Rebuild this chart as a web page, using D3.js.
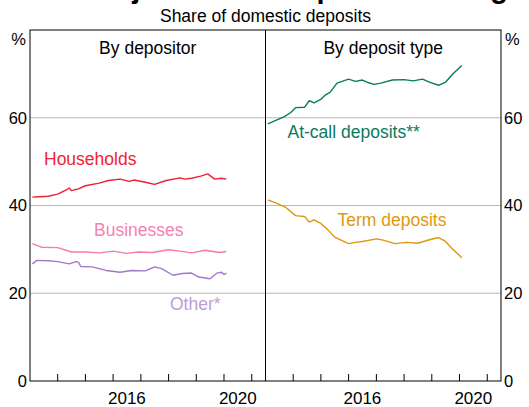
<!DOCTYPE html>
<html>
<head>
<meta charset="utf-8">
<script src="https://cdn.jsdelivr.net/npm/d3@7"></script>
<style>
  body { margin: 0; background: #fff; overflow: hidden; }
  svg { display: block; }
  text { font-family: Arial, "Liberation Sans", sans-serif; }
</style>
</head>
<body>
<svg id="chart"></svg>
<script>
// series, [month, per cent of domestic deposits]
const households = [
  ["2013-02", 41.9], ["2013-05", 42.0], ["2013-09", 42.1], ["2014-01", 42.6],
  ["2014-05", 43.6], ["2014-06", 44.0], ["2014-07", 43.4], ["2014-10", 43.8],
  ["2015-01", 44.5], ["2015-07", 45.1], ["2015-11", 45.7], ["2016-04", 46.0],
  ["2016-08", 45.5], ["2016-10", 45.8], ["2017-03", 45.3], ["2017-07", 44.8],
  ["2017-12", 45.7], ["2018-06", 46.3], ["2018-08", 46.0], ["2018-11", 46.2],
  ["2019-03", 46.7], ["2019-06", 47.2], ["2019-09", 46.0], ["2019-12", 46.2],
  ["2020-02", 46.0]
];
const businesses = [
  ["2013-02", 31.3], ["2013-06", 30.5], ["2014-01", 30.4], ["2014-07", 29.4],
  ["2015-01", 29.4], ["2015-07", 29.2], ["2016-01", 29.6], ["2016-07", 29.1],
  ["2016-12", 29.4], ["2017-06", 29.3], ["2018-01", 29.9], ["2018-06", 29.6],
  ["2018-11", 29.2], ["2019-05", 29.8], ["2019-11", 29.3], ["2020-02", 29.5]
];
const other = [
  ["2013-02", 26.7], ["2013-04", 27.5], ["2013-09", 27.4], ["2014-01", 27.2],
  ["2014-06", 26.7], ["2014-09", 27.2], ["2014-10", 27.1], ["2014-11", 26.1],
  ["2015-04", 26.0], ["2015-10", 25.2], ["2016-04", 24.8], ["2016-09", 25.2],
  ["2017-03", 25.1], ["2017-07", 26.0], ["2017-10", 25.6], ["2018-03", 24.1],
  ["2018-07", 24.5], ["2018-11", 24.6], ["2019-02", 23.7], ["2019-07", 23.3],
  ["2019-10", 24.6], ["2019-12", 24.8], ["2020-01", 24.3], ["2020-02", 24.6]
];
const atCall = [
  ["2013-02", 58.6], ["2013-06", 59.5], ["2013-09", 60.2], ["2013-12", 61.2],
  ["2014-02", 62.3], ["2014-06", 62.4], ["2014-08", 63.9], ["2014-10", 63.4],
  ["2015-01", 64.2], ["2015-03", 65.2], ["2015-05", 65.8], ["2015-08", 67.9],
  ["2016-01", 68.8], ["2016-04", 68.3], ["2016-07", 68.6], ["2016-09", 68.1],
  ["2016-12", 67.6], ["2017-03", 67.9], ["2017-08", 68.6], ["2018-01", 68.7],
  ["2018-05", 68.4], ["2018-09", 68.8], ["2018-12", 68.1], ["2019-04", 67.4],
  ["2019-07", 68.1], ["2019-10", 69.9], ["2020-02", 71.9]
];
const termDeposits = [
  ["2013-02", 41.3], ["2013-06", 40.5], ["2013-10", 39.5], ["2014-02", 37.7],
  ["2014-06", 37.5], ["2014-08", 36.2], ["2014-10", 36.7], ["2015-01", 35.9],
  ["2015-04", 34.5], ["2015-07", 32.8], ["2016-01", 31.3], ["2016-04", 31.6],
  ["2016-07", 31.8], ["2017-01", 32.4], ["2017-04", 32.1], ["2017-09", 31.3],
  ["2018-02", 31.6], ["2018-07", 31.4], ["2018-12", 32.2], ["2019-04", 32.7],
  ["2019-07", 31.8], ["2019-10", 30.1], ["2020-02", 28.1]
];

const yTicks = [0, 20, 40, 60];
const yearLabels = [2016, 2020];

const W = 529, H = 407;
const margin = {top: 30, right: 28, bottom: 26, left: 30};
const innerW = W - margin.left - margin.right;
const innerH = H - margin.top - margin.bottom;
const panelW = innerW / 2;

const parse = d3.timeParse("%Y-%m");

const svg = d3.select("#chart").attr("width", W).attr("height", H);

// title (mostly cut off at the top of the picture)
svg.append("text")
  .attr("x", 300).attr("y", -2)
  .attr("text-anchor", "middle")
  .attr("font-size", 29).attr("font-weight", "bold")
  .text("Major Banks' Deposit Funding");

svg.append("text")
  .attr("x", W / 2 + 1).attr("y", 16)
  .attr("dy", "0.36em")
  .attr("text-anchor", "middle")
  .attr("font-size", 17.5)
  .text("Share of domestic deposits");

const chart = svg.append("g")
  .attr("transform", `translate(${margin.left}, ${margin.top})`);

const yscale = d3.scaleLinear().domain([0, 80]).range([innerH, 0]);

// gridlines
chart.selectAll(".grid")
  .data(yTicks.filter(d => d > 0))
  .enter().append("line")
  .attr("x1", 0).attr("x2", innerW)
  .attr("y1", d => yscale(d)).attr("y2", d => yscale(d))
  .attr("stroke", "#b9b9b9").attr("stroke-width", 1);

// y tick labels both sides, "%" at the top
const yl = chart.append("g").attr("font-size", 16.5).attr("fill", "#000");
yTicks.forEach(v => {
  yl.append("text").attr("x", -3).attr("y", yscale(v)).attr("dy", "0.36em")
    .attr("text-anchor", "end").text(v);
  yl.append("text").attr("x", innerW + 3).attr("y", yscale(v)).attr("dy", "0.36em")
    .attr("text-anchor", "start").text(v);
});
yl.append("text").attr("x", -4).attr("y", 9).attr("dy", "0.36em")
  .attr("text-anchor", "end").text("%");
yl.append("text").attr("x", innerW + 4).attr("y", 9).attr("dy", "0.36em")
  .attr("text-anchor", "start").text("%");

const panels = [
  {title: "By depositor", series: [
    {data: households, color: "#ec1f33", label: "Households", lx: 14, ly: 129, lc: "#ee2337"},
    {data: businesses, color: "#f57ba9", label: "Businesses", lx: 64, ly: 200, lc: "#f581b3"},
    {data: other, color: "#a279c8", label: "Other*", lx: 140, ly: 274, lc: "#c19cd6"}
  ]},
  {title: "By deposit type", series: [
    {data: atCall, color: "#087a5d", label: "At-call deposits**", lx: 22, ly: 102, lc: "#0b7a5e"},
    {data: termDeposits, color: "#df9610", label: "Term deposits", lx: 72, ly: 190, lc: "#e0980f"}
  ]}
];

panels.forEach((p, i) => {
  const g = chart.append("g").attr("transform", `translate(${i * panelW}, 0)`);
  const xscale = d3.scaleTime()
    .domain([new Date(2013, 0, 1), new Date(2021, 6, 1)])
    .range([0, panelW]);

  const line = d3.line()
    .x(d => xscale(parse(d[0])))
    .y(d => yscale(d[1]));

  p.series.forEach(s => {
    g.append("path")
      .attr("d", line(s.data))
      .attr("fill", "none")
      .attr("stroke", s.color)
      .attr("stroke-width", 1.4)
      .attr("stroke-linejoin", "round");
    g.append("text")
      .attr("x", s.lx).attr("y", s.ly)
      .attr("dy", "0.36em")
      .attr("font-size", 17.5)
      .attr("fill", s.lc)
      .text(s.label);
  });

  // year ticks, inside, pointing up
  const years = d3.timeYear.range(new Date(2014, 0, 1), new Date(2021, 1, 1));
  g.selectAll(".tick")
    .data(years)
    .enter().append("line")
    .attr("x1", d => xscale(d)).attr("x2", d => xscale(d))
    .attr("y1", innerH).attr("y2", innerH - 7)
    .attr("stroke", "#000");

  g.selectAll(".yr")
    .data(yearLabels)
    .enter().append("text")
    .attr("x", d => xscale(new Date(d, 6, 1)))
    .attr("y", innerH + 16.5)
    .attr("dy", "0.36em")
    .attr("text-anchor", "middle")
    .attr("font-size", 17)
    .text(d => d);

  g.append("text")
    .attr("x", panelW / 2).attr("y", 18)
    .attr("dy", "0.36em")
    .attr("text-anchor", "middle")
    .attr("font-size", 17.5)
    .text(p.title);
});

// frame and divider
chart.append("rect")
  .attr("width", innerW).attr("height", innerH)
  .attr("fill", "none").attr("stroke", "#000").attr("stroke-width", 1);
chart.append("line")
  .attr("x1", panelW).attr("x2", panelW)
  .attr("y1", 0).attr("y2", innerH)
  .attr("stroke", "#000");
</script>
</body>
</html>
